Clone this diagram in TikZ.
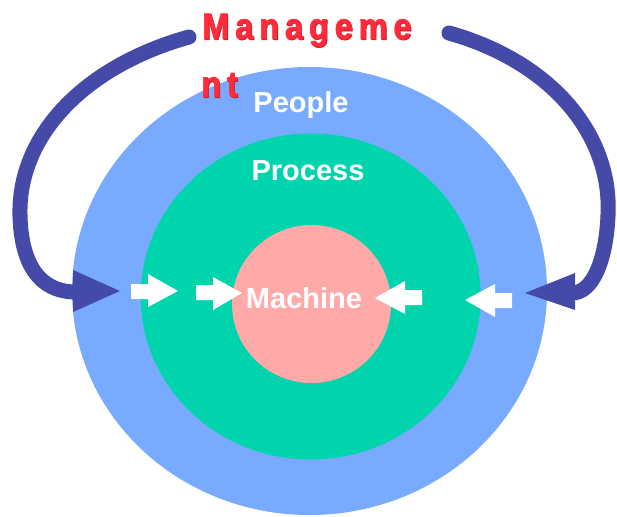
\documentclass[tikz,border=0pt]{standalone}
\usepackage{fontspec}
\setmainfont{Liberation Sans}
\newfontfamily\mgmtfont[LetterSpace=18,FakeBold=1.5]{Liberation Sans}
\definecolor{peopleblue}{RGB}{120,171,255}
\definecolor{processgreen}{RGB}{0,212,172}
\definecolor{machinepink}{RGB}{255,170,168}
\definecolor{arcblue}{RGB}{69,73,168}
\definecolor{mgmtred}{RGB}{255,42,58}
\definecolor{mgmtshadow}{RGB}{200,25,40}
\tikzset{
  ring/.style={draw=none},
  arcline/.style={draw=arcblue,line width=15pt,line cap=round},
  archead/.style={fill=arcblue,draw=none},
  whitearrow/.style={fill=white,draw=none},
  circlelabel/.style={text=white,font=\bfseries\fontsize{29}{34}\selectfont,anchor=base,inner sep=0pt},
  mgmtlabel/.style={text=mgmtred,font=\mgmtfont\bfseries\fontsize{37}{44}\selectfont,anchor=base west,inner sep=0pt,transform shape,xscale=0.88},
}
\begin{document}
\begin{tikzpicture}[x=1pt,y=-1pt]
\useasboundingbox (0,0) rectangle (617,516);
% rings
\fill[ring,peopleblue] (309.5,291) ellipse [x radius=237.5,y radius=224];
\fill[ring,processgreen] (310.7,296.5) ellipse [x radius=170,y radius=163];
\fill[ring,machinepink] (311.5,304) ellipse [x radius=79.5,y radius=79];
% labels
\node[circlelabel] (people) at (301,112) {People};
\node[circlelabel] (process) at (308,180) {Process};
\node[circlelabel] (machine) at (304,308) {Machine};
% management label
\node[mgmtlabel,text=mgmtshadow] (mgmtAs) at (202.8,39.8) {Manageme};
\node[mgmtlabel] (mgmtA) at (202,39) {Manageme};
\node[mgmtlabel,text=mgmtshadow] (mgmtBs) at (201.8,97.8) {nt};
\node[mgmtlabel] (mgmtB) at (201,97) {nt};
% left management arc
\coordinate (lstart) at (189,37);
\coordinate (lmid) at (20,215);
\coordinate (lend) at (76,292);
\draw[arcline] (lstart) .. controls (85,66) and (18,135) .. (lmid);
\draw[arcline,line cap=butt] (lmid) .. controls (21,262) and (38,292) .. (lend);
\fill[archead] (73,270) -- (73,312) -- (120,291) -- cycle;
% right management arc
\coordinate (rstart) at (449,33);
\coordinate (rmid) at (608,215);
\coordinate (rend) at (572,293);
\draw[arcline] (rstart) .. controls (552,62) and (612,135) .. (rmid);
\draw[arcline,line cap=butt] (rmid) .. controls (606,262) and (592,293) .. (rend);
\fill[archead] (575,273) -- (575,310) -- (525,293) -- cycle;
% white arrows
\fill[whitearrow] (131,284) -- (148,284) -- (148,274) -- (178,291) -- (148,307) -- (148,299) -- (131,299) -- cycle;
\fill[whitearrow] (196,285) -- (213,285) -- (213,277) -- (242,293) -- (213,310) -- (213,300) -- (196,300) -- cycle;
\fill[whitearrow] (422,290) -- (405,290) -- (405,281) -- (375,298) -- (405,314) -- (405,305) -- (422,305) -- cycle;
\fill[whitearrow] (512,293) -- (495,293) -- (495,284) -- (465,300) -- (495,317) -- (495,308) -- (512,308) -- cycle;
\end{tikzpicture}
\end{document}
